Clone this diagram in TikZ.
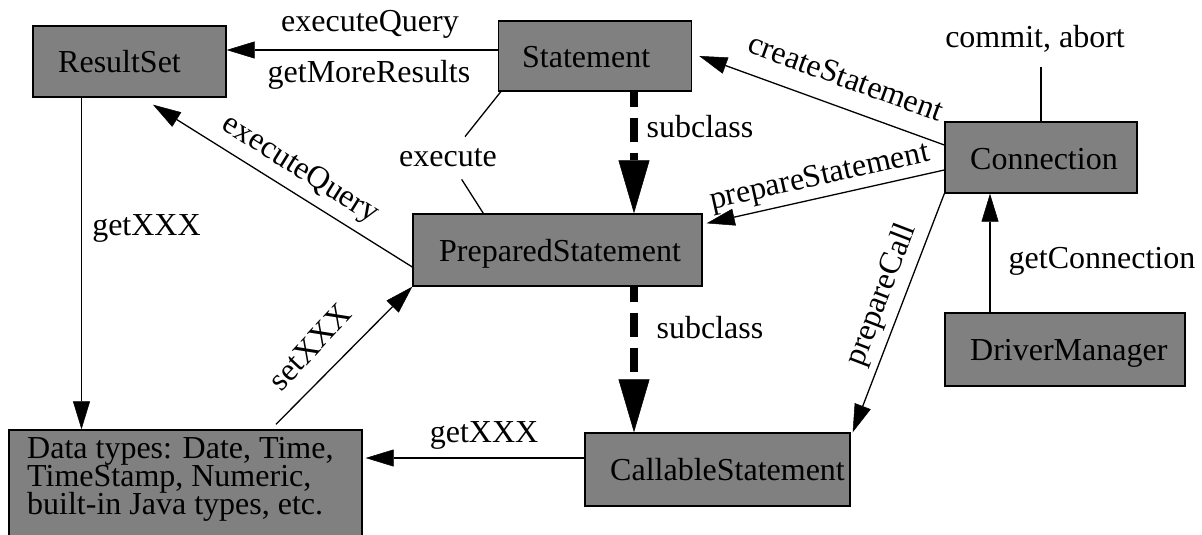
\documentclass[tikz,border=0pt]{standalone}
\usepackage{fontspec}
\setmainfont{Liberation Serif}
\usetikzlibrary{arrows.meta}
\definecolor{boxgray}{RGB}{128,128,128}
\begin{document}
\begin{tikzpicture}[x=1pt,y=-1pt,
  box/.style={draw=black, line width=1.4pt, fill=boxgray, inner sep=0pt},
  txt/.style={font=\fontsize{32}{34}\selectfont, inner sep=0pt, text=black},
  arr/.style={line width=1.3pt, -{Triangle[length=28pt,width=17pt,line width=0.5pt]}},
  plain/.style={line width=1.3pt},
  sub/.style={line width=7.5pt, dash pattern=on 24pt off 11pt, dash phase=9pt,
    -{Triangle[length=53pt,width=31pt,line width=0.5pt]}}
]
\useasboundingbox (0,0) rectangle (1202,535);
\clip (0,0) rectangle (1202,535);
\fill[white] (0,0) rectangle (1202,535);

% boxes
\node[box, minimum width=193pt, minimum height=71pt] (RS) at (129.5,61.5) {};
\node[box, minimum width=193pt, minimum height=70pt] (ST) at (595,56) {};
\node[box, minimum width=192pt, minimum height=71pt] (CO) at (1041,157.5) {};
\node[box, minimum width=289pt, minimum height=72pt] (PS) at (557.5,250) {};
\node[box, minimum width=240pt, minimum height=73pt] (DM) at (1065,349.5) {};
\node[box, minimum width=265pt, minimum height=73pt] (CS) at (717.5,469.5) {};
\node[box, minimum width=353pt, minimum height=115pt] (DT) at (185.5,487.5) {};

% box texts
\node[txt, anchor=base west] (RSt) at (58,73) {ResultSet};
\node[txt, anchor=base west] (STt) at (522,67) {Statement};
\node[txt, anchor=base west] (COt) at (970,169) {Connection};
\node[txt, anchor=base west] (PSt) at (439,261) {PreparedStatement};
\node[txt, anchor=base west] (DMt) at (970,360) {DriverManager};
\node[txt, anchor=base west] (CSt) at (610,480) {CallableStatement};
\node[txt, anchor=base west] (DT1) at (27,458) {Data types: Date, Time,};
\node[txt, anchor=base west] (DT2) at (27,486) {TimeStamp, Numeric,};
\node[txt, anchor=base west] (DT3) at (27,514) {built-in Java types, etc.};

% Statement -> ResultSet
\draw[arr] ([yshift=6pt]ST.west) -- ([yshift=11.5pt]RS.east);
\node[txt, anchor=base] (lEQ1) at (370,32) {executeQuery};
\node[txt, anchor=base] (lGMR) at (369,82) {getMoreResults};

% ResultSet -> Data types
\draw[arr] ([xshift=-48pt]RS.south) -- ([xshift=-48pt]RS.south |- DT.north);
\node[txt, anchor=base] (lGX1) at (146.5,235) {getXXX};

% PreparedStatement -> ResultSet
\draw[arr] ([yshift=-17pt]PS.west) -- ([xshift=23.5pt,yshift=-7pt]RS.south);
\node[txt, rotate=-32] (lEQ2) at (300,170) {executeQuery};

% Data types -> PreparedStatement
\draw[arr] ([xshift=90.5pt,yshift=5pt]DT.north) -- (PS.south west);
\node[txt, rotate=47] (lSX) at (310,347) {setXXX};

% CallableStatement -> Data types
\coordinate (CSw) at ([yshift=11.5pt]CS.west);
\draw[arr, shorten >=3pt] (CSw) -- (DT.east |- CSw);
\node[txt, anchor=base] (lGX2) at (484,442) {getXXX};

% subclass arrows
\draw[sub] ([xshift=39pt]ST.south) -- ([xshift=39pt]ST.south |- PS.north);
\node[txt, anchor=base] (lSUB1) at (700,137) {subclass};
\draw[sub] ([xshift=76.5pt]PS.south) -- ([xshift=76.5pt]PS.south |- CS.north);
\node[txt, anchor=base] (lSUB2) at (710,338) {subclass};

% execute
\node[txt, inner xsep=4pt, inner ysep=12pt] (lEX) at (448,158) {execute};
\draw[plain] ([xshift=3pt]ST.south west) -- (lEX);
\draw[plain] (lEX) -- ([xshift=71pt]PS.north west);

% Connection -> Statement
\draw[arr] ([yshift=12.5pt]CO.west) -- ([xshift=7pt]ST.east);
\node[txt, rotate=-20] (lCS) at (846,77) {createStatement};

% Connection -> PreparedStatement
\draw[arr] ([yshift=-12.5pt]CO.west) -- ([xshift=4pt,yshift=-10pt]PS.north east);
\node[txt, rotate=12.5] (lPSt) at (820,178) {prepareStatement};

% Connection -> CallableStatement
\draw[arr] (CO.south west) -- ([xshift=2pt]CS.north east);
\node[txt, rotate=69] (lPC) at (882,295) {prepareCall};

% DriverManager -> Connection
\draw[arr] ([xshift=-75pt]DM.north) -- ([xshift=-75pt]DM.north |- CO.south);
\node[txt, anchor=base] (lGC) at (1102,268) {getConnection};

% commit, abort
\node[txt, anchor=base] (lCA) at (1035,48) {commit, abort};
\coordinate (CAe) at (1041,67);
\draw[plain] (CO.north) -- (CAe);
\end{tikzpicture}
\end{document}
